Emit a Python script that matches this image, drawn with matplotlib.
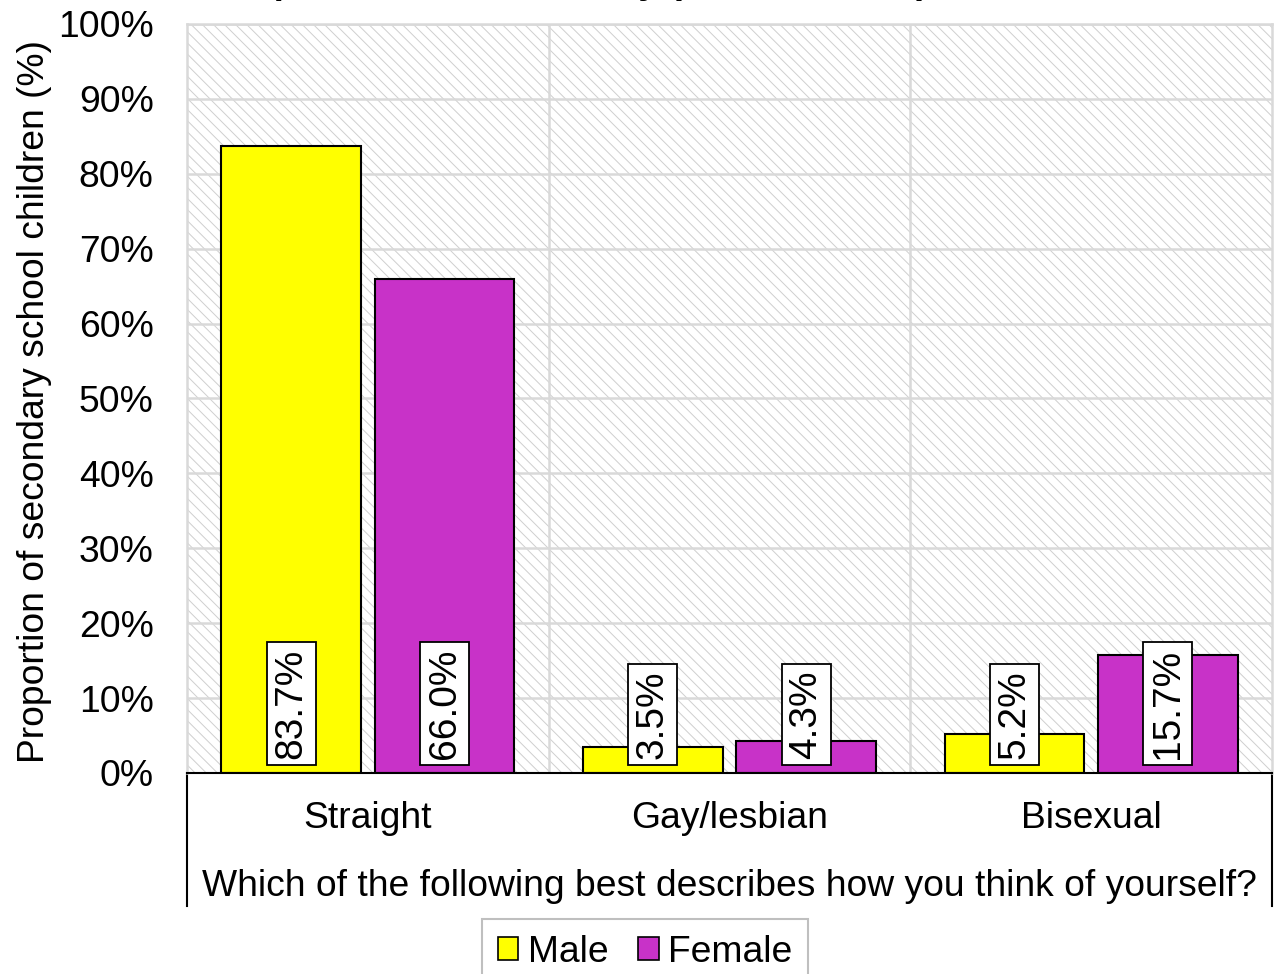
import matplotlib
matplotlib.use("Agg")
import matplotlib.pyplot as plt
from matplotlib.patches import Rectangle, Patch
import numpy as np

plt.rcParams['font.family'] = ['Liberation Sans', 'DejaVu Sans']
plt.rcParams['hatch.linewidth'] = 0.7

categories = ["Straight", "Gay/lesbian", "Bisexual"]
male = [83.7, 3.5, 5.2]
female = [66.0, 4.3, 15.7]
series_names = ["Male", "Female"]
series_colors = ["#FFFF00", "#C832C8"]
y_ticks = [0, 10, 20, 30, 40, 50, 60, 70, 80, 90, 100]

FS = 26.8
GRID = "#D9D9D9"

fig = plt.figure(figsize=(12.81, 9.74), dpi=100)
ax = fig.add_axes([187 / 1281, 1 - 773 / 974, 1085 / 1281, 749 / 974])

# hatched plot area
ax.add_patch(Rectangle((0, 0), 1, 1, transform=ax.transAxes, facecolor="white",
                       edgecolor="#CFCFCF", hatch="\\\\\\", linewidth=0, zorder=0))

x = np.arange(len(categories))
w = 0.387
off = 0.212
for vals, dx, col in ((male, -off, series_colors[0]), (female, off, series_colors[1])):
    ax.bar(x + dx, vals, width=w, color=col, edgecolor="black", linewidth=1.5, zorder=3)
    for xi, v in zip(x + dx, vals):
        ax.text(xi, 1.9, f"{v:.1f}%", rotation=90, ha="center", va="bottom", fontsize=28,
                zorder=5, bbox=dict(facecolor="white", edgecolor="black", linewidth=1.3, pad=4.8))

ax.set_xlim(-0.5, 2.5)
ax.set_ylim(0, 100)
ax.set_yticks(y_ticks)
ax.set_yticklabels([f"{t}%" for t in y_ticks], fontsize=FS)
ax.tick_params(axis="y", length=0, pad=24)
ax.set_xticks([])
ax.yaxis.grid(True, color=GRID, linewidth=1.8, zorder=1)
ax.set_axisbelow(True)
for xv in (0.5, 1.5):
    ax.axvline(xv, color=GRID, linewidth=1.8, zorder=1)

for s in ("top", "right", "left"):
    ax.spines[s].set_color(GRID)
    ax.spines[s].set_linewidth(1.8)
ax.spines["bottom"].set_color("black")
ax.spines["bottom"].set_linewidth(1.5)
ax.spines["bottom"].set_zorder(6)

# box lines under the category axis
for xa in (0, 1):
    ax.plot([xa, xa], [0, -0.177], transform=ax.transAxes, color="black",
            linewidth=1.5, clip_on=False)

for xi, c in zip(x, categories):
    ax.text(xi, -0.061, c, transform=ax.get_xaxis_transform(), ha="center", va="center",
            fontsize=FS)
ax.text(0.5, -0.151, "Which of the following best describes how you think of yourself?",
        transform=ax.transAxes, ha="center", va="center", fontsize=FS)

fig.text(35 / 1281, 1 - 402 / 974, "Proportion of secondary school children (%)",
         rotation=90, ha="center", va="center", fontsize=FS)

# title sits mostly above the top edge
fig.text(226 / 1281, 1 + 7 / 974, "Reported sexual identity (Year 10, 2019)",
         ha="left", va="baseline", fontsize=FS, fontweight="bold")

handles = [Patch(facecolor=c, edgecolor="black", linewidth=1.2) for c in series_colors]
leg = fig.legend(handles, series_names, loc="upper center",
                 bbox_to_anchor=(645 / 1281, 1 - 919 / 974), ncol=2, fontsize=FS,
                 frameon=True, fancybox=False, framealpha=1, edgecolor="#BFBFBF",
                 handlelength=0.55, handleheight=0.55, handletextpad=0.25,
                 columnspacing=0.8, borderpad=0.42, borderaxespad=0)
leg.get_frame().set_linewidth(1.5)

fig.savefig("out.png", dpi=100)
